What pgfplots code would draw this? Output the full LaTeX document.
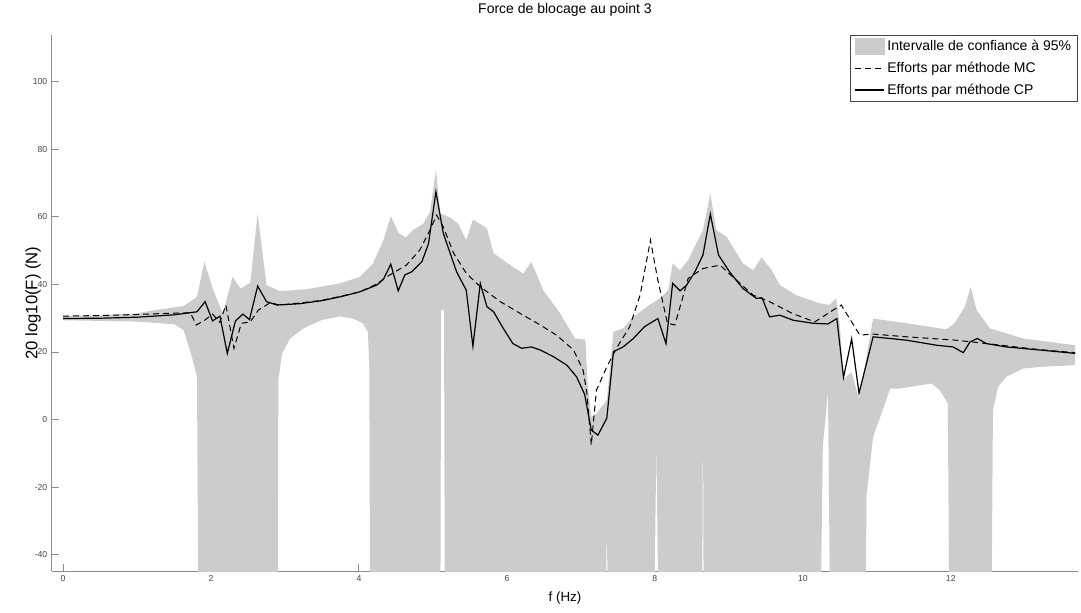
\documentclass[border=0pt]{standalone}
\usepackage{fontspec}
\setmainfont{Liberation Sans}
\usepackage{pgfplots}
\pgfplotsset{compat=1.18}
\usepgfplotslibrary{fillbetween}
\definecolor{band}{RGB}{204,204,204}
\definecolor{axisgray}{RGB}{140,140,140}
\definecolor{labelgray}{RGB}{70,70,70}

\begin{document}
\begin{tikzpicture}
\begin{axis}[
  name=ax,
  scale only axis,
  width=769.5pt, height=402pt,
  xmin=-0.15, xmax=13.72, ymin=-44.8, ymax=113.8,
  axis x line*=bottom, axis y line*=left,
  axis line style={axisgray, line width=0.75pt},
  tick align=inside,
  major tick length=5pt,
  tick style={axisgray, line width=0.75pt},
  xtick={0,2,...,12}, ytick={-40,-20,...,100},
  tick label style={font=\fontsize{6.5}{7}\selectfont, text=labelgray},
  /pgf/number format/assume math mode=true,
  title={Force de blocage au point 3},
  every axis title/.style={at={(axis description cs:0.5,1.0466)}, anchor=center,
    font=\fontsize{10.5}{12}\selectfont},
  xlabel={f (Hz)}, ylabel={20 log10(F) (N)},
  x label style={at={(axis description cs:0.5,-0.05)}, anchor=center,
    font=\fontsize{10}{12}\selectfont},
  y label style={at={(axis description cs:-0.0185,0.5)}, anchor=center,
    font=\fontsize{12.5}{14}\selectfont},
  legend style={at={(axis description cs:1,1)}, anchor=north east, draw=labelgray,
    font=\fontsize{10.5}{12}\selectfont, legend cell align=left, row sep=3pt},
  legend image code/.code={\draw[#1] (0pt,0pt) -- (22pt,0pt);},
]

% 95% band: upper and lower bounds
\addplot[draw=none, name path=up, forget plot] coordinates {
(0,30.6) (0.5,30.9) (1.0,31.4) (1.18,32.2) (1.5,33.2) (1.63,33.6) (1.81,36.3)
(1.91,46.7) (2.03,38.3) (2.16,31.4) (2.29,42.2) (2.40,38.8) (2.53,40.5) (2.63,61)
(2.75,39.8) (2.93,38) (3.3,38.6) (3.74,40.3) (4.01,42.2) (4.19,46.2) (4.33,53.1)
(4.43,60.2) (4.54,55.1) (4.63,53.9) (4.73,56.1) (4.87,58) (4.96,61.5) (5.04,73.8)
(5.10,61) (5.23,59.8) (5.34,58) (5.45,53.1) (5.54,59.2) (5.73,56.6) (5.82,49.2)
(6.08,45.2) (6.22,43.2) (6.33,46.7) (6.49,38.3) (6.72,31.4) (6.92,24) (7.06,23.7)
(7.09,10.7) (7.14,0.8) (7.21,1.8) (7.35,5.8) (7.44,26) (7.57,27) (7.71,30.4)
(7.89,33.4) (8.07,35.9) (8.18,38.3) (8.24,46.2) (8.34,44.2) (8.45,47.2) (8.65,56.1)
(8.75,66.9) (8.83,56.1) (8.97,54.1) (9.19,46.2) (9.33,44.2) (9.44,48) (9.58,44.2)
(9.69,39.8) (9.91,36.8) (10.23,34.4) (10.36,33.9) (10.45,35.9) (10.50,28) (10.55,12)
(10.66,14) (10.76,6) (10.95,29.9) (11.5,28.2) (11.94,26.7) (12.05,28.5) (12.19,33.4)
(12.27,39.3) (12.35,32.4) (12.53,27) (12.98,24) (13.68,22)
};
\addplot[draw=none, name path=lo, forget plot] coordinates {
(0,29.4) (0.5,29.2) (1.0,29.0) (1.5,28.2) (1.63,26.5) (1.74,18.6) (1.81,12.7)
(1.83,-60) (2.90,-60) (2.91,11.7) (2.96,19.6) (3.07,24) (3.25,27) (3.5,29.5)
(3.74,30.5) (3.92,29.9) (4.05,28.5) (4.12,26) (4.14,15) (4.15,-60)
(5.10,-60) (5.11,32.4) (5.15,32.4) (5.16,-60)
(7.33,-60) (7.35,-33) (7.37,-60)
(7.99,-60) (8.02,-7.5) (8.05,-60)
(8.64,-60) (8.65,7.2) (8.66,-60)
(10.24,-60) (10.27,-8) (10.34,8.2) (10.37,-60)
(10.85,-60) (10.86,-22.8) (10.95,-5.1) (11.08,2.8) (11.18,9.2) (11.31,9.2)
(11.74,10.7) (11.85,8.7) (11.96,4.8) (11.98,-60)
(12.55,-60) (12.57,2.8) (12.64,9.7) (12.75,12.7) (12.98,15.1) (13.2,15.6) (13.68,16.1)
};
\addplot[band, draw=none, forget plot] fill between[of=up and lo];

% Efforts par methode MC
\addplot[black, line width=0.75pt, dash pattern=on 4.5pt off 3pt, forget plot] coordinates {
(0,30.6) (0.5,30.8) (1.0,31.1) (1.5,31.5) (1.72,31.6) (1.80,28) (1.92,29.5)
(2.02,31.2) (2.12,28.8) (2.20,33.9) (2.31,21.1) (2.41,28.5) (2.53,28.9) (2.64,32.4)
(2.80,34.6) (2.93,33.9) (3.2,34.5) (3.5,35.3) (3.88,37.1) (4.01,37.8) (4.24,40.1)
(4.37,42.2) (4.64,45.7) (4.82,50.1) (4.96,56.1) (5.05,60.5) (5.14,57) (5.28,49.2)
(5.45,43.3) (5.64,39.3) (5.91,34.9) (6.18,31.4) (6.45,28) (6.67,25) (6.9,20.6)
(7.03,14.6) (7.08,8) (7.14,-7.5) (7.21,8.7) (7.35,15.6) (7.48,21.1) (7.66,27.5)
(7.8,36.8) (7.94,53.1) (8.04,41.3) (8.17,28.5) (8.27,28) (8.36,34.9) (8.45,41.8)
(8.65,44.7) (8.88,45.7) (9.1,41.3) (9.33,36.8) (9.55,34.9) (9.86,31.4) (10.16,28.9)
(10.41,32.4) (10.52,33.9) (10.77,25) (10.95,25.3) (11.4,24.5) (12.07,23.5)
(12.48,22.5) (13.2,20.7) (13.68,19.8)
};

% Efforts par methode CP
\addplot[black, line width=0.9pt, forget plot] coordinates {
(0,29.9) (0.5,30.0) (1.0,30.3) (1.5,31.0) (1.81,31.9) (1.92,34.9) (2.02,29.2)
(2.12,30.6) (2.22,19.6) (2.33,29.2) (2.43,31.2) (2.52,29.6) (2.63,39.5) (2.75,34.9)
(2.89,33.9) (3.2,34.3) (3.5,35.2) (3.74,36.3) (4.01,37.8) (4.24,39.8) (4.33,41.5)
(4.43,46.0) (4.53,38.1) (4.62,42.8) (4.71,43.7) (4.85,46.7) (4.94,52.1) (5.04,67.4)
(5.14,55.1) (5.32,43.7) (5.45,38.3) (5.54,21.7) (5.64,40.3) (5.73,33.4) (5.82,31.9)
(5.95,27) (6.08,22.5) (6.2,21.1) (6.33,21.5) (6.45,20.6) (6.63,18.6) (6.81,16.1)
(6.94,12.7) (7.05,7.5) (7.14,-3.1) (7.23,-4.6) (7.35,0.4) (7.44,20.1) (7.57,21.5)
(7.71,24) (7.86,27.5) (8.04,29.9) (8.15,22.5) (8.24,40.3) (8.34,38.1) (8.43,39.8)
(8.54,43.7) (8.65,48.7) (8.75,60.8) (8.86,48.7) (9.01,43.7) (9.19,38.8) (9.37,35.9)
(9.45,36) (9.55,30.4) (9.69,30.9) (9.87,29.4) (10.14,28.5) (10.34,28.3) (10.46,29.9)
(10.55,12.5) (10.66,23.9) (10.76,7.8) (10.95,24.5) (11.4,23.5) (11.81,22) (12.03,21.5)
(12.17,19.8) (12.26,23) (12.36,24) (12.48,22.5) (12.75,21.5) (13.2,20.6) (13.68,19.6)
};

\addlegendimage{legend image code/.code={\fill[band] (0pt,-6pt) rectangle (22pt,6pt);}}
\addlegendentry{Intervalle de confiance à 95\%}
\addlegendimage{black, line width=0.75pt, dash pattern=on 4.5pt off 3pt}
\addlegendentry{Efforts par méthode MC}
\addlegendimage{black, line width=0.9pt}
\addlegendentry{Efforts par méthode CP}
\end{axis}
\pgfresetboundingbox
\path[use as bounding box] ([shift={(-39pt,-30.75pt)}]ax.south west) rectangle ++(810.75pt,459pt);
\end{tikzpicture}
\end{document}
